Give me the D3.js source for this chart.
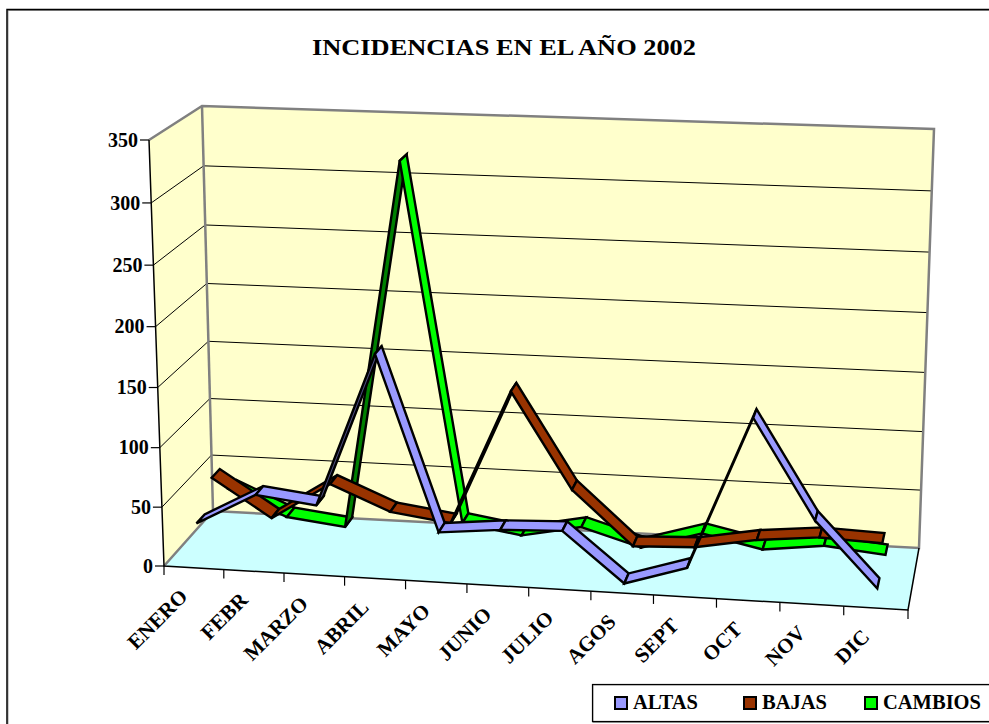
<!DOCTYPE html>
<html>

<head>
    <script src="https://d3js.org/d3.v7.min.js"></script>
    <title>INCIDENCIAS</title>
    <style>
        html, body { margin: 0; padding: 0; background: #fff; overflow: hidden; }
        svg { display: block; }
        text { font-family: "Liberation Serif", serif; font-weight: bold; fill: #000; }
    </style>
</head>

<body>
    <svg></svg>
    <script>
        const months = ["ENERO", "FEBR", "MARZO", "ABRIL", "MAYO", "JUNIO", "JULIO", "AGOS", "SEPT", "OCT", "NOV", "DIC"];
        const seriesNames = ["ALTAS", "BAJAS", "CAMBIOS"];
        const altas = [34, 61, 55, 183, 38, 43, 45, 4, 20, 146, 65, 12];
        const bajas = [58, 26, 58, 37, 30, 144, 64, 19, 21, 30, 35, 33];
        const cambios = [33, 11, 5, 318, 14, 6, 16, 1, 16, 5, 11, 6];
        const seriesValues = [altas, bajas, cambios];
        const colors = ["#9999ff", "#993300", "#00ff00"];
        const darkColors = ["#4d4d80", "#4d1a00", "#008000"];
        const yTicks = [0, 50, 100, 150, 200, 250, 300, 350];

        const width = 989;
        const height = 724;
        const svg = d3.select("svg").attr("width", width).attr("height", height);

        // box corners on screen: front-left, front-right, back-right, back-left
        const floorBox = [[164, 566], [908, 610], [919, 548], [213, 511]];
        const ceilBox = [[149, 140], [923, 169], [934, 129], [202, 106]];
        const persp = 1.04;

        const warp = t => t / (t + persp * (1 - t));
        const lerp = (a, b, t) => a + (b - a) * t;

        function quadMap(q) {
            return (u, w) => {
                const fr = [lerp(q[0][0], q[1][0], u), lerp(q[0][1], q[1][1], u)];
                const bk = [lerp(q[3][0], q[2][0], u), lerp(q[3][1], q[2][1], u)];
                return [lerp(fr[0], bk[0], w), lerp(fr[1], bk[1], w)];
            };
        }
        const floorMap = quadMap(floorBox);
        const ceilMap = quadMap(ceilBox);

        const xScale = d3.scaleBand().domain(months).range([0, 1]);
        const yScale = d3.scaleLinear().domain([0, 350]).range([0, 1]);
        const zScale = d3.scaleBand().domain(seriesNames).range([0, 1]);
        const ribbon = 0.17;

        function project(u, v, w) {
            const f = floorMap(warp(u), w), c = ceilMap(warp(u), w);
            const s = warp(v);
            return [lerp(f[0], c[0], s), lerp(f[1], c[1], s)];
        }

        const line = d3.line();
        const g = svg.append("g");

        // chart border with its gray inner edge
        g.append("rect")
            .attr("x", 8).attr("y", 10.5)
            .attr("width", width).attr("height", height)
            .attr("fill", "#fff").attr("stroke", "#999").attr("stroke-width", 1);
        g.append("rect")
            .attr("x", 7).attr("y", 9.5)
            .attr("width", width).attr("height", height)
            .attr("fill", "none").attr("stroke", "#000").attr("stroke-width", 1.5);

        // walls and floor
        const poly = (pts, fill) => g.append("path")
            .attr("d", line(pts) + "Z").attr("fill", fill).attr("stroke", "none");
        poly([project(0, 0, 0), project(0, 1, 0), project(0, 1, 1), project(0, 0, 1)], "#ffffcc");
        poly([project(0, 0, 1), project(0, 1, 1), project(1, 1, 1), project(1, 0, 1)], "#ffffcc");
        poly([project(0, 0, 0), project(1, 0, 0), project(1, 0, 1), project(0, 0, 1)], "#ccffff");

        // gridlines
        yTicks.slice(1, -1).forEach(t => {
            const v = yScale(t);
            g.append("path")
                .attr("d", line([project(0, v, 0), project(0, v, 1), project(1, v, 1)]))
                .attr("fill", "none").attr("stroke", "#000").attr("stroke-width", 1);
        });

        // gray frame of the walls
        const frame = [
            [project(0, 1, 0), project(0, 1, 1), project(1, 1, 1), project(1, 0, 1), project(0, 0, 1), project(0, 0, 0)],
            [project(0, 1, 1), project(0, 0, 1)]
        ];
        frame.forEach(pts => g.append("path")
            .attr("d", line(pts))
            .attr("fill", "none").attr("stroke", "#808080").attr("stroke-width", 2.5));

        // axis lines
        g.append("path")
            .attr("d", line([project(0, 1, 0), project(0, 0, 0), project(1, 0, 0), project(1, 0, 1)]))
            .attr("fill", "none").attr("stroke", "#000").attr("stroke-width", 1.5);

        // y ticks
        yTicks.forEach(t => {
            const p = project(0, yScale(t), 0);
            g.append("line")
                .attr("x1", p[0] - 9).attr("x2", p[0])
                .attr("y1", p[1]).attr("y2", p[1])
                .attr("stroke", "#000").attr("stroke-width", 1.2);
            g.append("text")
                .attr("x", p[0] - 11).attr("y", p[1])
                .attr("dy", "0.33em").attr("text-anchor", "end")
                .attr("font-size", 20).text(t);
        });

        // x ticks, one at each band edge
        const xEdges = months.map(m => xScale(m)).concat([1]);
        xEdges.forEach(u => {
            const p = project(u, 0, 0);
            g.append("line")
                .attr("x1", p[0]).attr("x2", p[0])
                .attr("y1", p[1]).attr("y2", p[1] + 9)
                .attr("stroke", "#000").attr("stroke-width", 1.2);
        });
        months.forEach(m => {
            const p = project(xScale(m) + xScale.bandwidth() / 2, 0, 0);
            g.append("text")
                .attr("transform", `translate(${p[0] - 5},${p[1] + 30}) rotate(-45)`)
                .attr("text-anchor", "end")
                .attr("font-size", 21).text(m);
        });

        // ribbons, back series first
        seriesNames.map((name, i) => i).reverse().forEach(si => {
            const name = seriesNames[si];
            const w0 = zScale(name) + zScale.bandwidth() / 2 - ribbon / 2;
            const w1 = w0 + ribbon;
            const vals = seriesValues[si];
            d3.pairs(d3.range(vals.length)).forEach(([a, b]) => {
                const ua = xScale(months[a]) + xScale.bandwidth() / 2;
                const ub = xScale(months[b]) + xScale.bandwidth() / 2;
                const pts = [
                    project(ua, yScale(vals[a]), w0),
                    project(ub, yScale(vals[b]), w0),
                    project(ub, yScale(vals[b]), w1),
                    project(ua, yScale(vals[a]), w1)
                ];
                // underside of the ribbon shows the darker colour
                const under = d3.polygonArea(pts) < 0;
                g.append("path")
                    .attr("d", line(pts) + "Z")
                    .attr("fill", under ? darkColors[si] : colors[si])
                    .attr("stroke", "#000").attr("stroke-width", 2.4);
            });
        });

        // title
        g.append("text")
            .attr("x", 504).attr("y", 55)
            .attr("text-anchor", "middle").attr("font-size", 23)
            .attr("textLength", 384).attr("lengthAdjust", "spacingAndGlyphs")
            .text("INCIDENCIAS EN EL AÑO 2002");

        // legend
        g.append("rect")
            .attr("x", 593).attr("y", 685)
            .attr("width", width).attr("height", 37.5)
            .attr("fill", "#fff").attr("stroke", "#999").attr("stroke-width", 1);
        g.append("rect")
            .attr("x", 592.5).attr("y", 684.5)
            .attr("width", width).attr("height", 37)
            .attr("fill", "none").attr("stroke", "#000").attr("stroke-width", 1.2);
        const legendSwatchX = [615, 744, 865];
        const legendTextX = [633, 762, 883];
        seriesNames.forEach((name, i) => {
            g.append("rect")
                .attr("x", legendSwatchX[i]).attr("y", 697)
                .attr("width", 12).attr("height", 12)
                .attr("fill", colors[i]).attr("stroke", "#000").attr("stroke-width", 2);
            g.append("text")
                .attr("x", legendTextX[i]).attr("y", 709)
                .attr("font-size", 20.5).text(name);
        });
    </script>
</body>

</html>
